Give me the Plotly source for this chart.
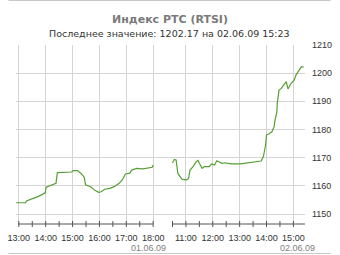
import plotly.graph_objects as go

# ---- data ----
day1_times = ["12:54", "13:15", "13:17", "13:25", "13:38", "13:51", "13:59", "14:01", "14:16", "14:23",
              "14:26", "14:58", "15:01", "15:11", "15:20", "15:26", "15:29", "15:40", "15:51", "15:58",
              "16:04", "16:12", "16:23", "16:33", "16:44", "16:51", "16:58", "17:08", "17:12", "17:23",
              "17:37", "17:47", "17:58", "18:00"]
day1_values = [1154.0, 1154.0, 1154.6, 1155.0, 1155.9, 1156.8, 1157.6, 1159.5, 1160.3, 1160.9,
               1164.7, 1164.9, 1165.4, 1165.4, 1164.2, 1163.0, 1160.4, 1159.7, 1158.3, 1157.7,
               1157.9, 1158.8, 1159.1, 1159.7, 1160.9, 1162.1, 1164.2, 1164.5, 1165.6, 1166.2,
               1166.0, 1166.2, 1166.6, 1167.4]

day2_times = ["10:30", "10:34", "10:38", "10:40", "10:42", "10:48", "10:52", "11:02", "11:06", "11:09",
              "11:16", "11:23", "11:27", "11:30", "11:36", "11:41", "11:52", "11:57", "12:04", "12:09",
              "12:16", "12:20", "12:27", "12:34", "12:41", "13:02", "13:23", "13:34", "13:48", "13:53",
              "13:56", "13:58", "14:00", "14:05", "14:12", "14:17", "14:19", "14:23", "14:24", "14:28",
              "14:33", "14:41", "14:44", "14:48", "14:55", "15:02", "15:06", "15:13", "15:18", "15:23"]
day2_values = [1168.1, 1169.4, 1169.2, 1167.0, 1164.4, 1163.0, 1162.3, 1162.1, 1162.7, 1165.6,
               1166.8, 1168.6, 1169.0, 1168.0, 1166.2, 1166.8, 1166.8, 1167.8, 1167.4, 1168.9,
               1168.5, 1168.0, 1168.2, 1168.0, 1167.8, 1167.8, 1168.2, 1168.4, 1168.8, 1170.4,
               1172.7, 1174.5, 1178.1, 1178.4, 1179.2, 1181.0, 1183.4, 1186.1, 1189.3, 1194.0,
               1194.6, 1196.4, 1197.0, 1194.4, 1196.4, 1197.6, 1199.4, 1201.1, 1202.3, 1202.17]

day1_ticks = ["13:00", "14:00", "15:00", "16:00", "17:00", "18:00"]
day2_ticks = ["11:00", "12:00", "13:00", "14:00", "15:00"]
day1_minor = ["13:30", "14:30", "15:30", "16:30", "17:30"]
day2_minor = ["10:30", "11:30", "12:30", "13:30", "14:30"]
y_ticks = [1150, 1160, 1170, 1180, 1190, 1200, 1210]
date_labels = ["01.06.09", "02.06.09"]

title_text = "Индекс РТС (RTSI)"
subtitle_text = "Последнее значение: 1202.17 на 02.06.09 15:23"

# ---- layout helpers ----
W, H = 340, 255
ML, MR, MT, MB = 8, 27, 45, 31
DAY1_BASE = 12.0          # origin of the compressed time axis (keeps ticks off 0)
DAY2_SHIFT = 8.22         # session gap on the compressed time axis
PX_PER_HOUR = 28.35
X_1300_PX = 11            # pixel column of day-1 13:00


def hrs(s):
    h, m = s.split(":")
    return int(h) + int(m) / 60.0


def pos1(s):
    return hrs(s) - DAY1_BASE


def pos2(s):
    return hrs(s) - DAY1_BASE + DAY2_SHIFT


def py(p):  # pixel y -> paper y
    return (H - MB - p) / (H - MT - MB)


def px(p):  # pixel x -> paper x
    return (p - ML) / (W - ML - MR)


x1 = [pos1(t) for t in day1_times]
x2 = [pos2(t) for t in day2_times]

line_color = "#55a035"
grid_color = "#d4d4d4"
axis_color = "#555555"
font_main = "Liberation Sans, Arial, sans-serif"

fig = go.Figure()
fig.add_trace(go.Scatter(x=x1, y=day1_values, mode="lines",
                         line=dict(color=line_color, width=1.2), hoverinfo="skip"))
fig.add_trace(go.Scatter(x=x2, y=day2_values, mode="lines",
                         line=dict(color=line_color, width=1.2), hoverinfo="skip"))

tickvals = [pos1(t) for t in day1_ticks] + [pos2(t) for t in day2_ticks]
ticktext = day1_ticks + day2_ticks

x_left = pos1("13:00") + (ML - X_1300_PX) / PX_PER_HOUR
x_right = pos1("13:00") + (W - MR - X_1300_PX) / PX_PER_HOUR

shapes = []
# broken axis line
shapes.append(dict(type="line", xref="x", yref="paper", x0=pos1("12:58"), x1=pos1("18:00"),
                   y0=0, y1=0, line=dict(color=axis_color, width=1)))
shapes.append(dict(type="line", xref="x", yref="paper", x0=pos2("10:30"), x1=x_right,
                   y0=0, y1=0, line=dict(color=axis_color, width=1)))
# tick marks (cross the axis line)
tl = 3.0 / (H - MT - MB)
for t in day1_ticks + day1_minor:
    shapes.append(dict(type="line", xref="x", yref="paper", x0=pos1(t), x1=pos1(t),
                       y0=-tl, y1=tl, line=dict(color=axis_color, width=1)))
for t in day2_ticks + day2_minor:
    shapes.append(dict(type="line", xref="x", yref="paper", x0=pos2(t), x1=pos2(t),
                       y0=-tl, y1=tl, line=dict(color=axis_color, width=1)))
# frame lines at top and bottom of the picture
shapes.append(dict(type="line", xref="paper", yref="paper", x0=px(0), x1=px(W),
                   y0=py(0.5), y1=py(0.5), line=dict(color="#c8c8c8", width=1)))
shapes.append(dict(type="line", xref="paper", yref="paper", x0=px(0), x1=px(W),
                   y0=py(253.5), y1=py(253.5), line=dict(color="#c8c8c8", width=1)))

annotations = [
    dict(text=title_text, xref="paper", yref="paper", x=px(170), y=py(19), xanchor="center",
         yanchor="middle", showarrow=False,
         font=dict(family="DejaVu Sans, Verdana, sans-serif", size=11, color="#7a7a7a", weight="bold")),
    dict(text=subtitle_text, xref="paper", yref="paper", x=px(170), y=py(33), xanchor="center",
         yanchor="middle", showarrow=False,
         font=dict(family="DejaVu Sans, Verdana, sans-serif", size=9.5, color="#333333")),
    dict(text=date_labels[0], xref="paper", yref="paper", x=px(168), y=py(247.5), xanchor="right",
         yanchor="middle", showarrow=False, font=dict(family=font_main, size=9, color="#808080")),
    dict(text=date_labels[1], xref="paper", yref="paper", x=px(326), y=py(247.5), xanchor="right",
         yanchor="middle", showarrow=False, font=dict(family=font_main, size=9, color="#808080")),
]

fig.update_layout(
    width=W, height=H,
    margin=dict(l=ML, r=MR, t=MT, b=MB, pad=0),
    paper_bgcolor="white", plot_bgcolor="white",
    showlegend=False,
    shapes=shapes,
    annotations=annotations,
    xaxis=dict(range=[x_left, x_right], tickmode="array", tickvals=tickvals, ticktext=ticktext,
               showgrid=True, gridcolor=grid_color, gridwidth=1, zeroline=False, showline=False,
               ticks="", ticklabelstandoff=7, tickangle=0, ticklabeloverflow="allow",
               tickfont=dict(family=font_main, size=9, color="#333333"), fixedrange=True),
    yaxis=dict(range=[1146.45, 1210], side="right", tickmode="array", tickvals=y_ticks,
               showgrid=True, gridcolor=grid_color, gridwidth=1, zeroline=False, showline=False,
               ticks="", ticklabelstandoff=6,
               tickfont=dict(family=font_main, size=9, color="#333333"), fixedrange=True),
)

fig.write_html("out.html", config={"displayModeBar": False})
